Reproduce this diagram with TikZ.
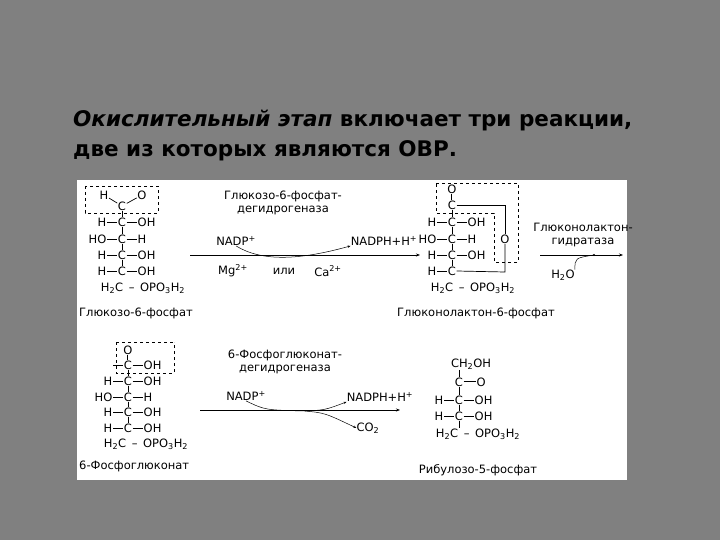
\documentclass[tikz,border=0pt]{standalone}
\usepackage{fontspec}
\setmainfont{DejaVu Sans}
\newfontfamily\tfont{DejaVu Sans}
\usetikzlibrary{arrows.meta}
\newcommand\sbs[1]{\textsubscript{#1}}
\newcommand\sps[1]{\textsuperscript{#1}}
\newcommand\bd{\ \,--\ \,}
\begin{document}
\begin{tikzpicture}[x=1pt,y=-1pt,
 ch/.style={inner sep=0.5pt,font=\fontsize{11.5}{12}\selectfont},
 lbl/.style={inner sep=0pt,font=\fontsize{11.5}{12.5}\selectfont},
 bond/.style={line width=0.7pt},
 dbox/.style={dashed,line width=0.5pt},
 rx/.style={line width=0.7pt,-{Stealth[length=4pt]}}]
\useasboundingbox (0,0) rectangle (720,540);
\fill[black!50] (0,0) rectangle (720,540);
\fill[white] (77,180) rectangle (627,480);
\node[anchor=base west,inner sep=0,font=\tfont\fontsize{21.5}{23}\selectfont\bfseries] (t1) at (73,127) {\textit{Окислительный этап} включает три реакции,};
\node[anchor=base west,inner sep=0,font=\tfont\fontsize{21.5}{23}\selectfont\bfseries] (t2) at (73,157) {две из которых являются ОВР.};
\newcommand\crow[5]{% name, x, y, left, right
 \node[ch] (#1) at (#2,#3) {C};
 \node[ch,anchor=east] (#1l) at (#2-15,#3) {#4};
 \node[ch,anchor=west] (#1r) at (#2+15,#3) {#5};
 \draw[bond] (#1l.east) -- (#1.west) (#1.east) -- (#1r.west);}
% ---- structure 1
\node[ch] (a0) at (122,206) {C};
\node[ch] (a0h) at (104,195) {H};
\node[ch] (a0o) at (142,195) {O};
\draw[bond] (a0h) -- (a0) (a0) -- (a0o);
\draw[dbox] (85,186) rectangle (158,213);
\crow{a1}{122}{222}{H}{OH}
\crow{a2}{122}{239}{HO}{H}
\crow{a3}{122}{255}{H}{OH}
\crow{a4}{122}{271}{H}{OH}
\node[ch] (a5) at (143,288) {H\sbs{2}C\bd OPO\sbs{3}H\sbs{2}};
\foreach \p/\q in {a0/a1,a1/a2,a2/a3,a3/a4} \draw[bond] (\p.south)--(\q.north);
\node[lbl,anchor=west] (n1) at (79,313) {Глюкозо-6-фосфат};
% ---- reaction 1
\node[lbl,align=center] (e1) at (283,203) {Глюкозо-6-фосфат-\\дегидрогеназа};
\coordinate (r1s) at (190,255); \coordinate (r1e) at (420,255);
\draw[rx] (r1s) -- (r1e);
\node[lbl] (np1) at (236,241) {NADP\sps{+}};
\node[lbl] (nh1) at (384,241) {NADPH+H\sps{+}};
\draw[line width=0.5pt,-{Stealth[length=3pt]}] (np1.south) .. controls (262,262) and (300,260) .. (nh1.south west);
\node[lbl] (mg) at (233,271) {Mg\sps{2+}};
\node[lbl] (ili) at (284,271) {или};
\node[lbl] (ca) at (328,271) {Ca\sps{2+}};
% ---- structure 2
\node[ch] (b00) at (452,189) {O};
\node[ch] (b0) at (452,205) {C};
\draw[bond,double,double distance=1pt] (b00.south) -- (b0.north);
\crow{b1}{452}{222}{H}{OH}
\crow{b2}{452}{239}{HO}{H}
\crow{b3}{452}{255}{H}{OH}
\node[ch] (b4) at (452,271) {C};
\node[ch,anchor=east] (b4l) at (437,271) {H};
\draw[bond] (b4l.east) -- (b4.west);
\node[ch] (b5) at (473,288) {H\sbs{2}C\bd OPO\sbs{3}H\sbs{2}};
\foreach \p/\q in {b0/b1,b1/b2,b2/b3,b3/b4} \draw[bond] (\p.south)--(\q.north);
\node[ch] (bo) at (505,239) {O};
\draw[bond] (b0.east) -- (505,205) -- (bo.north);
\draw[bond] (bo.south) -- (505,272) -- (b4.east);
\draw[dbox] (436,183) -- (518,183) -- (518,262) -- (494,262) -- (494,213) -- (436,213) -- cycle;
\node[lbl] (n2) at (476,313) {Глюконолактон-6-фосфат};
% ---- reaction 2
\node[lbl,align=center] (e2) at (583,235) {Глюконолактон-\\гидратаза};
\coordinate (r2s) at (540,255); \coordinate (r2e) at (623,255);
\draw[rx] (r2s) -- (r2e);
\coordinate (dot) at (594,255);
\fill (dot) circle (1.2pt);
\node[lbl] (h2o) at (563,275) {H\sbs{2}O};
\draw[line width=0.5pt] (h2o.north east) .. controls (575,258) .. (dot);
% ---- structure 3
\node[ch] (c00) at (128,350) {O};
\crow{c0}{128}{365}{}{OH}
\draw[bond,double,double distance=1pt] (c00.south) -- (c0.north);
\draw[dbox] (116,342) -- (174,342) (116,342)--(116,373) -- (174,373) -- (174,342);
\crow{c1}{128}{381}{H}{OH}
\crow{c2}{128}{397}{HO}{H}
\crow{c3}{128}{412}{H}{OH}
\crow{c4}{128}{428}{H}{OH}
\node[ch] (c5) at (146,444) {H\sbs{2}C\bd OPO\sbs{3}H\sbs{2}};
\foreach \p/\q in {c0/c1,c1/c2,c2/c3,c3/c4} \draw[bond] (\p.south)--(\q.north);
\node[lbl,anchor=west] (n3) at (79,466) {6-Фосфоглюконат};
% ---- reaction 3
\node[lbl,align=center] (e3) at (285,362) {6-Фосфоглюконат-\\дегидрогеназа};
\coordinate (r3s) at (200,410); \coordinate (r3e) at (400,410);
\draw[rx] (r3s) -- (r3e);
\node[lbl] (np3) at (246,396) {NADP\sps{+}};
\node[lbl] (nh3) at (380,397) {NADPH+H\sps{+}};
\node[lbl] (co2) at (368,428) {CO\sbs{2}};
\coordinate (br) at (305,411);
\draw[line width=0.5pt] (np3.south) .. controls (265,410) .. (br);
\draw[line width=0.5pt,-{Stealth[length=3pt]}] (br) .. controls (325,410) .. (nh3.south west);
\draw[line width=0.5pt,-{Stealth[length=3pt]}] (br) .. controls (325,413) .. (co2.west);
% ---- structure 4
\node[ch] (d0) at (471,364) {CH\sbs{2}OH};
\node[ch] (d1) at (459,382) {C};
\node[ch,anchor=west] (d1r) at (476,382) {O};
\draw[bond,double,double distance=1pt] (d1.east) -- (d1r.west);
\crow{d2}{459}{400}{H}{OH}
\crow{d3}{459}{416}{H}{OH}
\node[ch] (d4) at (478,434) {H\sbs{2}C\bd OPO\sbs{3}H\sbs{2}};
\draw[bond] (459,370) -- (d1.north);
\foreach \p/\q in {d1/d2,d2/d3} \draw[bond] (\p.south)--(\q.north);
\draw[bond] (d3.south) -- (459,428);
\node[lbl] (n4) at (478,470) {Рибулозо-5-фосфат};
\end{tikzpicture}
\end{document}
